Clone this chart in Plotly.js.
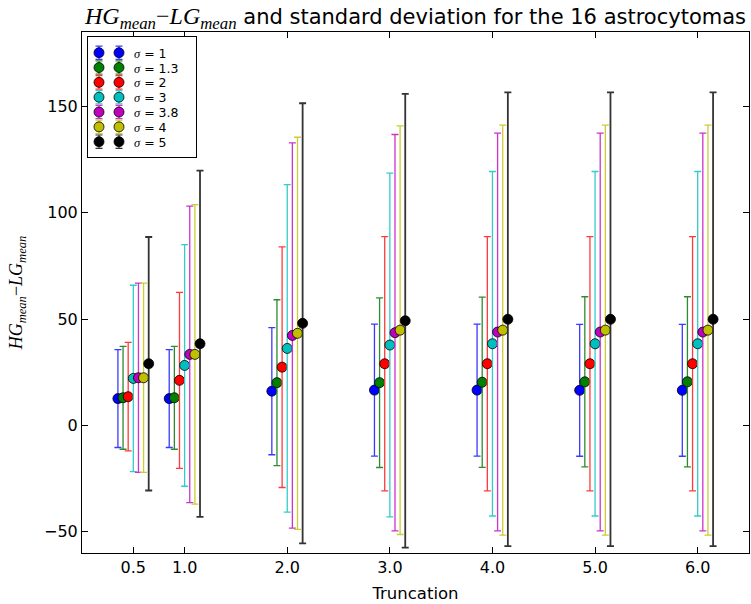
<!DOCTYPE html>
<html>
<head>
<meta charset="utf-8">
<script src="https://cdn.plot.ly/plotly-3.0.1.min.js"></script>
<style>html,body{margin:0;padding:0;background:#fff;}</style>
</head>
<body>
<div id="chart" style="width:751px;height:604px;"></div>
<script>
// ---- data ----
const truncation = [0.5, 1.0, 2.0, 3.0, 4.0, 5.0, 6.0];
const tickLabels = ['0.5', '1.0', '2.0', '3.0', '4.0', '5.0', '6.0'];
const sigmaLabels = ['1', '1.3', '2', '3', '3.8', '4', '5'];

const meanS1  = [12.6, 12.6, 16.1, 16.6, 16.6, 16.5, 16.5];
const sdS1    = [23.0, 23.0, 29.9, 31.0, 31.0, 31.0, 31.0];
const meanS13 = [13.0, 13.0, 20.1, 20.1, 20.3, 20.5, 20.5];
const sdS13   = [24.2, 24.2, 39.0, 39.9, 40.0, 40.0, 40.0];
const meanS2  = [13.5, 21.2, 27.4, 29.0, 29.0, 29.0, 29.0];
const sdS2    = [25.5, 41.4, 56.6, 59.8, 59.8, 59.8, 59.8];
const meanS3  = [22.1, 28.2, 36.2, 37.8, 38.4, 38.4, 38.4];
const sdS3    = [43.8, 56.8, 77.0, 80.8, 81.0, 81.0, 81.0];
const meanS38 = [22.4, 33.4, 42.3, 43.6, 43.9, 43.9, 43.9];
const sdS38   = [44.5, 69.7, 90.6, 93.2, 93.5, 93.5, 93.5];
const meanS4  = [22.4, 33.4, 43.3, 44.8, 44.8, 44.8, 44.8];
const sdS4    = [44.5, 70.4, 92.2, 96.1, 96.4, 96.4, 96.4];
const meanS5  = [29.0, 38.4, 48.0, 49.2, 49.9, 49.9, 49.9];
const sdS5    = [59.6, 81.4, 103.5, 106.7, 106.7, 106.7, 106.7];

const means = [meanS1, meanS13, meanS2, meanS3, meanS38, meanS4, meanS5];
const sds   = [sdS1, sdS13, sdS2, sdS3, sdS38, sdS4, sdS5];

// ---- styles ----
const colors = ['#0000ff', '#008000', '#ff0000', '#00bfbf', '#bf00bf', '#bfbf00', '#000000'];
const barColors = ['#3a3aff', '#2e8b2e', '#ff3a3a', '#33cccc', '#cc33cc', '#cccc33', '#333333'];
const step = 0.05;
const mathFont = 'Liberation Serif';
function mathLabel(size) {
  return '<span style="font-family:' + mathFont + ';font-size:' + size + 'px"><i>HG</i><sub><i>mean</i></sub>\u2212<i>LG</i><sub><i>mean</i></sub></span>';
}

const traces = [];
means.forEach((m, s) => {
  const off = (s - (means.length - 1) / 2) * step;
  traces.push({
    type: 'scatter', mode: 'markers',
    x: truncation.map(t => t + off), y: m,
    error_y: {type: 'data', array: sds[s], visible: true, color: barColors[s],
              thickness: s === 6 ? 1.8 : 1.3, width: 3.5},
    marker: {color: colors[s], size: 10, line: {color: '#000', width: 0.8}},
    showlegend: false, hoverinfo: 'skip', xaxis: 'x', yaxis: 'y'
  });
});

// custom legend (two markers per entry, like the original)
const legRowY = sigmaLabels.map((_, i) => -i);
sigmaLabels.forEach((lab, s) => {
  traces.push({
    type: 'scatter', mode: 'markers',
    x: [0, 1], y: [legRowY[s], legRowY[s]],
    error_y: {type: 'constant', value: 0.45, visible: true, color: barColors[s],
              thickness: 1.2, width: 3.5},
    marker: {color: colors[s], size: 10, line: {color: '#000', width: 0.8}},
    showlegend: false, hoverinfo: 'skip', xaxis: 'x2', yaxis: 'y2'
  });
});

const annotations = sigmaLabels.map((lab, s) => ({
  xref: 'x2', yref: 'y2', x: 1.7, y: legRowY[s], xanchor: 'left', yanchor: 'middle',
  height: 14, valign: 'middle', borderpad: 0,
  text: '<span style="font-family:' + mathFont + '"><i>\u03c3</i></span> = ' + lab,
  showarrow: false, font: {family: 'DejaVu Sans', size: 12.5, color: '#000'}
}));

const W = 751, H = 604, L = 82, R = 2, T = 32, B = 51;
const pw = W - L - R, ph = H - T - B;
// legend box in pixels
const lbx0 = 88, lbx1 = 196, lby0 = 37, lby1 = 157;

const layout = {
  width: W, height: H,
  margin: {l: L, r: R, t: T, b: B},
  paper_bgcolor: '#fff', plot_bgcolor: '#fff',
  font: {family: 'DejaVu Sans', size: 16, color: '#000'},
  title: {text: mathLabel(24) + ' and standard deviation for the 16 astrocytomas',
          font: {family: 'DejaVu Sans', size: 21, color: '#000'},
          xref: 'paper', x: 0.5, xanchor: 'center', y: 1 - 17 / H, yanchor: 'middle'},
  xaxis: {range: [0, 6.5], tickvals: truncation, ticktext: tickLabels,
          ticks: 'inside', ticklen: 6, tickcolor: '#000', tickwidth: 1,
          showline: true, linecolor: '#000', linewidth: 1, mirror: 'allticks',
          showgrid: false, zeroline: false,
          tickfont: {family: 'DejaVu Sans', size: 16},
          title: {text: 'Truncation', font: {family: 'DejaVu Sans', size: 16.5}, standoff: 11}},
  yaxis: {range: [-60, 185], tickvals: [-50, 0, 50, 100, 150],
          ticks: 'inside', ticklen: 6, tickcolor: '#000', tickwidth: 1,
          showline: true, linecolor: '#000', linewidth: 1, mirror: 'allticks',
          showgrid: false, zeroline: false,
          tickfont: {family: 'DejaVu Sans', size: 16},
          title: {text: mathLabel(18), font: {family: 'DejaVu Sans', size: 18}, standoff: 16}},
  xaxis2: {domain: [(lbx0 - L) / pw, (lbx1 - L) / pw], anchor: 'y2',
           range: [-(99 - lbx0) / 20, (lbx1 - 99) / 20],
           showline: true, mirror: true, linecolor: '#000', linewidth: 1,
           showticklabels: false, ticks: '', showgrid: false, zeroline: false, fixedrange: true},
  yaxis2: {domain: [(H - B - lby1) / ph, (H - B - lby0) / ph], anchor: 'x2',
           range: [-6 - (lby1 - 141.7) / 14.83, (52.7 - lby0) / 14.83],
           showline: true, mirror: true, linecolor: '#000', linewidth: 1,
           showticklabels: false, ticks: '', showgrid: false, zeroline: false, fixedrange: true},
  annotations: annotations,
  showlegend: false
};

Plotly.newPlot('chart', traces, layout, {displayModeBar: false, staticPlot: true});
</script>
</body>
</html>
